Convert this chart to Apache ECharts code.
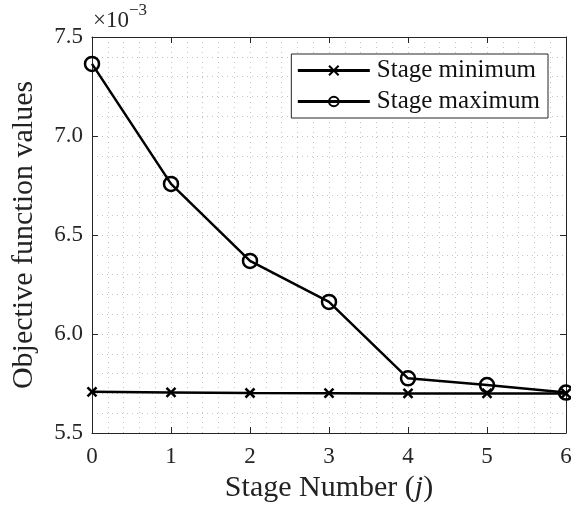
<!DOCTYPE html>
<html>
<head>
<meta charset="utf-8">
<script src="https://cdn.jsdelivr.net/npm/echarts@6/dist/echarts.min.js"></script>
<style>
  html, body { margin: 0; padding: 0; background: #fff; }
  #chart { width: 571px; height: 508px; }
</style>
</head>
<body>
<div id="chart"></div>
<script>
// Stage index j and objective values (in units of 1e-3)
const stages = [0, 1, 2, 3, 4, 5, 6];
const stageMinimum = [5.708, 5.705, 5.702, 5.701, 5.700, 5.700, 5.700];
const stageMaximum = [7.364, 6.758, 6.369, 6.162, 5.776, 5.742, 5.704];
const yTicks = [5.5, 6.0, 6.5, 7.0, 7.5];

const FONT = 'Liberation Serif';
const INK = '#262626';
const gridDots = { color: '#c4c4c4', width: 1, type: [1, 4] };

const chart = echarts.init(document.getElementById('chart'), null, { renderer: 'canvas' });

const crossPath = 'path://M0,0L10,10M10,0L0,10';

chart.setOption({
  animation: false,
  backgroundColor: '#fff',
  grid: { left: 92, right: 5, top: 37, bottom: 75, containLabel: false, outerBoundsMode: 'none' },
  xAxis: [{
    type: 'value',
    min: 0, max: 6, interval: 1,
    name: '{n|Stage Number (}{i|j}{n|)}',
    nameLocation: 'middle',
    nameGap: 39,
    nameTextStyle: {
      rich: {
        n: { fontFamily: FONT, fontSize: 30, color: '#222' },
        i: { fontFamily: FONT, fontSize: 30, fontStyle: 'italic', color: '#222' }
      }
    },
    axisLine: { show: true, lineStyle: { color: INK, width: 1 } },
    axisTick: { show: true, inside: true, length: 6, lineStyle: { color: INK } },
    axisLabel: { fontFamily: FONT, fontSize: 23, color: INK, margin: 12 },
    splitLine: { show: true, lineStyle: gridDots },
    minorTick: { show: false, splitNumber: 5 },
    minorSplitLine: { show: true, lineStyle: gridDots }
  }, {
    type: 'value', position: 'top',
    min: 0, max: 6, interval: 1,
    axisLine: { show: true, onZero: false, lineStyle: { color: INK, width: 1 } },
    axisTick: { show: true, inside: true, length: 6, lineStyle: { color: INK } },
    axisLabel: { show: false },
    splitLine: { show: false }
  }],
  yAxis: [{
    type: 'value',
    min: 5.5, max: 7.5, interval: 0.5,
    name: 'Objective function values',
    nameLocation: 'middle',
    nameGap: 53,
    nameTextStyle: { fontFamily: FONT, fontSize: 30, color: '#222' },
    axisLine: { show: true, lineStyle: { color: INK, width: 1 } },
    axisTick: { show: true, inside: true, length: 6, lineStyle: { color: INK } },
    axisLabel: {
      fontFamily: FONT, fontSize: 23, color: INK, margin: 9,
      formatter: v => (yTicks.includes(+v.toFixed(1)) ? v.toFixed(1) : '')
    },
    splitLine: { show: true, lineStyle: gridDots },
    minorTick: { show: false, splitNumber: 5 },
    minorSplitLine: { show: true, lineStyle: gridDots }
  }, {
    type: 'value', position: 'right',
    min: 5.5, max: 7.5, interval: 0.5,
    axisLine: { show: true, onZero: false, lineStyle: { color: INK, width: 1 } },
    axisTick: { show: true, inside: true, length: 6, lineStyle: { color: INK } },
    axisLabel: { show: false },
    splitLine: { show: false }
  }],
  legend: {
    top: 54, right: 23,
    orient: 'vertical',
    backgroundColor: '#fff',
    borderColor: INK, borderWidth: 1,
    padding: [4, 8, 4, 5],
    itemWidth: 72, itemHeight: 12, itemGap: 6,
    lineStyle: { width: 3, color: '#000' },
    textStyle: { fontFamily: FONT, fontSize: 25, color: '#111', padding: [0, 0, 0, 2] },
    data: ['Stage minimum', 'Stage maximum']
  },
  graphic: [{
    type: 'text',
    left: 93, top: 2,
    style: {
      text: '{a|×10}{s|−3}',
      rich: {
        a: { fontFamily: FONT, fontSize: 23, fill: INK, verticalAlign: 'bottom', lineHeight: 30 },
        s: { fontFamily: FONT, fontSize: 17, fill: INK, verticalAlign: 'top', lineHeight: 30, padding: [0, 0, 12, 0] }
      }
    }
  }],
  series: [{
    name: 'Stage minimum',
    type: 'line',
    data: stages.map((s, i) => [s, stageMinimum[i]]),
    symbol: crossPath,
    symbolSize: 9,
    lineStyle: { color: '#000', width: 2.5 },
    itemStyle: { color: '#000', borderColor: '#000', borderWidth: 2.5 },
    z: 3
  }, {
    name: 'Stage maximum',
    type: 'line',
    data: stages.map((s, i) => [s, stageMaximum[i]]),
    symbol: 'circle',
    symbolSize: 14,
    showAllSymbol: true,
    lineStyle: { color: '#000', width: 2.5 },
    itemStyle: { color: 'rgba(255,255,255,0)', borderColor: '#000', borderWidth: 2.5 },
    z: 4
  }]
});
</script>
</body>
</html>
